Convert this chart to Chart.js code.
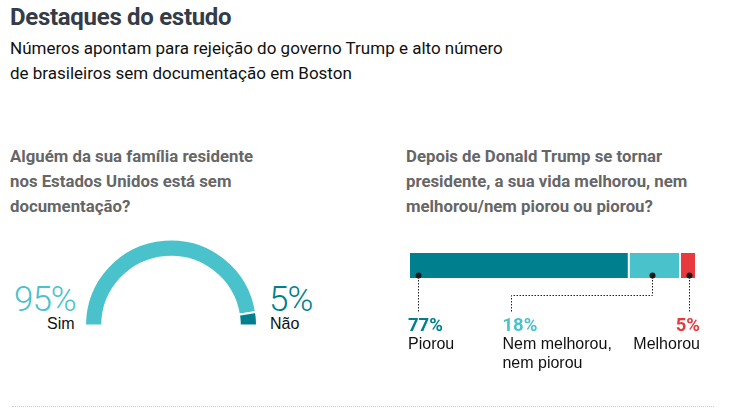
<!DOCTYPE html>
<html>
<head>
<meta charset="utf-8">
<script src="https://cdn.jsdelivr.net/npm/chart.js@4"></script>
<style>
    body { margin: 0; width: 736px; height: 409px; background: #fff; font-family: Roboto, "Liberation Sans", sans-serif; position: relative; overflow: hidden; }
    .abs { position: absolute; white-space: nowrap; }
    #title { left: 10px; top: 3px; font-size: 24px; font-weight: 700; color: #343c47; letter-spacing: -0.3px; }
    #subtitle { left: 10px; top: 36px; font-size: 17px; line-height: 25px; color: #111; }
    .question { top: 144px; font-size: 16.8px; font-weight: 700; line-height: 25px; color: #666; }
    #q1 { left: 10px; }
    #q2 { left: 406px; }
    .big { font-size: 35px; font-weight: 300; line-height: 35px; letter-spacing: -1px; }
    .small { font-family: "Liberation Sans", Arial, sans-serif; font-size: 16px; line-height: 16px; color: #111; }
    #gaugeBox { left: 84px; top: 238px; width: 174px; height: 89px; }
    #barBox { left: 396px; top: 240px; width: 330px; height: 140px; }
    #footer { left: 12px; right: 22px; top: 406px; border-top: 1px dotted #ccc; }
</style>
</head>
<body>
<div class="abs" id="title">Destaques do estudo</div>
<div class="abs" id="subtitle">Números apontam para rejeição do governo Trump e alto número<br>de brasileiros sem documentação em Boston</div>
<div class="abs question" id="q1">Alguém da sua família residente<br>nos Estados Unidos está sem<br>documentação?</div>
<div class="abs question" id="q2">Depois de Donald Trump se tornar<br>presidente, a sua vida melhorou, nem<br>melhorou/nem piorou ou piorou?</div>

<div class="abs" id="gaugeBox"><canvas id="gaugeChart"></canvas></div>
<div class="abs big" id="simPct" style="left:14px; top:282px; color:#4ac2cc;"></div>
<div class="abs small" id="simLbl" style="left:47px; top:316px;"></div>
<div class="abs big" id="naoPct" style="left:269px; top:282px; color:#00808f;"></div>
<div class="abs small" id="naoLbl" style="left:270px; top:316px;"></div>

<div class="abs" id="barBox"><canvas id="barChart"></canvas></div>
<div class="abs" id="footer"></div>

<script>
    // pergunta 1
    const gaugeLabels = ['Sim', 'Não'];
    const gaugeValues = [95, 5];
    const gaugeColors = ['#4ac2cc', '#00808f'];

    // pergunta 2
    const barLabels = ['Piorou', 'Nem melhorou,\nnem piorou', 'Melhorou'];
    const barValues = [77, 18, 5];
    const barColors = ['#00808f', '#4ac2cc', '#e8393f'];

    document.getElementById('simPct').innerText = gaugeValues[0] + '%';
    document.getElementById('simLbl').innerText = gaugeLabels[0];
    document.getElementById('naoPct').innerText = gaugeValues[1] + '%';
    document.getElementById('naoLbl').innerText = gaugeLabels[1];

    new Chart(document.getElementById('gaugeChart'), {
        type: 'doughnut',
        data: {
            labels: gaugeLabels,
            datasets: [{
                data: gaugeValues,
                backgroundColor: gaugeColors,
                borderColor: '#fff',
                borderWidth: 2
            }]
        },
        options: {
            responsive: true,
            maintainAspectRatio: false,
            animation: false,
            rotation: -90,
            circumference: 180,
            cutout: '80%',
            plugins: { legend: { display: false }, tooltip: { enabled: false } }
        }
    });

    // dots, dotted leader lines and labels under the bar
    const calloutPlugin = {
        id: 'callouts',
        afterDatasetsDraw(chart) {
            const ctx = chart.ctx;
            const labelTop = 78;
            const bars = chart.data.datasets.map((ds, i) => chart.getDatasetMeta(i).data[0]);
            ctx.save();
            bars.forEach((bar, i) => {
                const start = bar.base;
                const end = bar.x;
                const bottom = bar.y + bar.height / 2;
                let dotX, labelX, align;
                if (i === 0) {
                    dotX = start + 8; labelX = start - 2; align = 'left';
                } else if (i === bars.length - 1) {
                    dotX = (start + end) / 2 + 1; labelX = end + 5; align = 'right';
                } else {
                    dotX = (start + end) / 2 - 3; labelX = start - 127; align = 'left';
                }
                // leader line
                ctx.strokeStyle = '#222';
                ctx.lineWidth = 1;
                ctx.setLineDash([1.5, 1.5]);
                ctx.beginPath();
                if (i === 1) {
                    const midY = bottom + 17;
                    const lineX = labelX + 9;
                    ctx.moveTo(Math.round(dotX) + 0.5, bottom - 1);
                    ctx.lineTo(Math.round(dotX) + 0.5, midY + 0.5);
                    ctx.lineTo(Math.round(lineX) + 0.5, midY + 0.5);
                    ctx.lineTo(Math.round(lineX) + 0.5, labelTop - 6);
                } else {
                    ctx.moveTo(Math.round(dotX) + 0.5, bottom - 1);
                    ctx.lineTo(Math.round(dotX) + 0.5, labelTop - 6);
                }
                ctx.stroke();
                ctx.setLineDash([]);
                // dot
                ctx.fillStyle = '#1a1a1a';
                ctx.beginPath();
                ctx.arc(Math.round(dotX) + 0.5, bottom - 2.5, 3, 0, Math.PI * 2);
                ctx.fill();
                // texts
                ctx.textAlign = align;
                ctx.textBaseline = 'alphabetic';
                ctx.fillStyle = barColors[i];
                ctx.font = '700 18.5px Roboto, "Liberation Sans", sans-serif';
                ctx.fillText(barValues[i] + '%', labelX, labelTop + 13);
                ctx.fillStyle = '#111';
                ctx.font = '16px "Liberation Sans", Arial, sans-serif';
                barLabels[i].split('\n').forEach((line, k) => {
                    ctx.fillText(line, labelX, labelTop + 31 + k * 19);
                });
            });
            ctx.restore();
        }
    };

    new Chart(document.getElementById('barChart'), {
        type: 'bar',
        data: {
            labels: [''],
            datasets: barValues.map((v, i) => ({
                label: barLabels[i],
                data: [v],
                backgroundColor: barColors[i],
                borderColor: '#fff',
                borderWidth: i < barValues.length - 1 ? { right: 2 } : 0,
                borderSkipped: false,
                categoryPercentage: 1,
                barPercentage: 1
            }))
        },
        options: {
            indexAxis: 'y',
            responsive: true,
            maintainAspectRatio: false,
            animation: false,
            layout: { padding: { left: 14, right: 31, top: 13, bottom: 102 } },
            scales: {
                x: { stacked: true, min: 0, max: 100, display: false },
                y: { stacked: true, display: false }
            },
            plugins: { legend: { display: false }, tooltip: { enabled: false } }
        },
        plugins: [calloutPlugin]
    });
</script>
</body>
</html>
